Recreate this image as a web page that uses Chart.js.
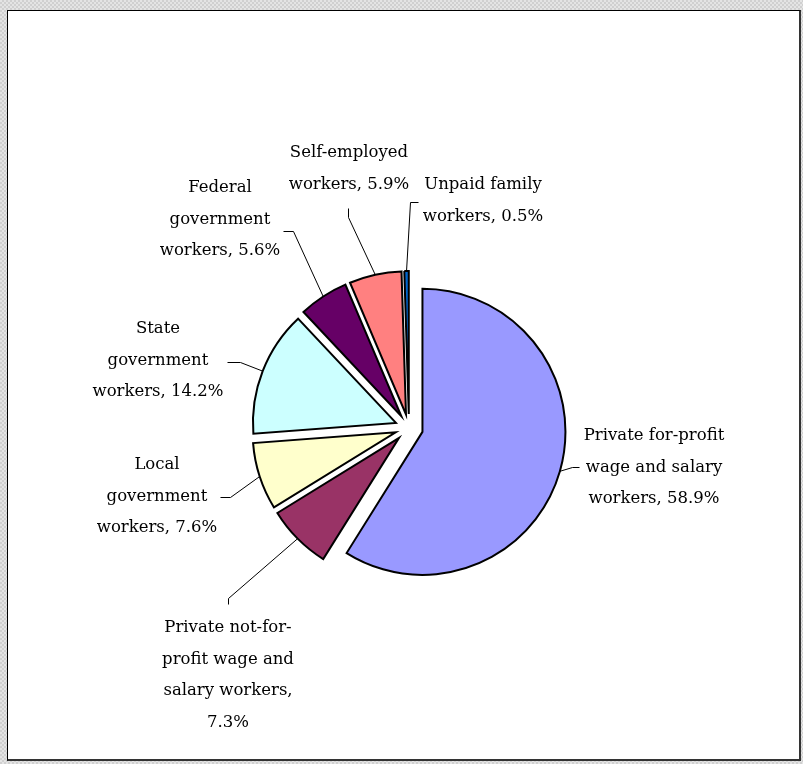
<!DOCTYPE html>
<html>
<head>
<meta charset="utf-8">
<title>Workers by class</title>
<script src="https://cdn.jsdelivr.net/npm/chart.js@4/dist/chart.umd.min.js"></script>
<style>
html, body { margin: 0; padding: 0; }
body {
    width: 803px; height: 764px; overflow: hidden; position: relative;
    background-color: #dadada;
    background-image: repeating-conic-gradient(#d0d0d0 0 25%, #e4e4e4 0 50%);
    background-size: 4px 4px;
}
#frame {
    position: absolute; left: 7px; top: 10px; width: 791px; height: 748px;
    background: #fff;
    border-left: 1px solid #000; border-top: 1px solid #000;
    border-right: 2px solid #333; border-bottom: 2px solid #333;
}
#pie { position: absolute; left: 0; top: 0; }
</style>
</head>
<body>
<div id="frame"></div>
<canvas id="pie" width="803" height="764"></canvas>
<script>
// ── data ────────────────────────────────────────────────────────────────────
const categories = [
    'Private for-profit wage and salary workers',
    'Private not-for-profit wage and salary workers',
    'Local government workers',
    'State government workers',
    'Federal government workers',
    'Self-employed workers',
    'Unpaid family workers'
];
const shares = [58.9, 7.3, 7.6, 14.2, 5.6, 5.9, 0.5];

// label text as Excel wrapped it; {v} is replaced by the share
const labelLines = [
    ['Private for-profit', 'wage and salary', 'workers, {v}'],
    ['Private not-for-', 'profit wage and', 'salary workers,', '{v}'],
    ['Local', 'government', 'workers, {v}'],
    ['State', 'government', 'workers, {v}'],
    ['Federal', 'government', 'workers, {v}'],
    ['Self-employed', 'workers, {v}'],
    ['Unpaid family', 'workers, {v}']
];

// ── styling / layout ────────────────────────────────────────────────────────
const sliceColors = ['#9999FF', '#993366', '#FFFFCC', '#CCFFFF', '#660066', '#FF8080', '#0066CC'];
const EXPLODE = 14;
const LINE_H = 31.5;

// label block centre + leader elbow/end (leader start comes from the slice)
const labelLayout = [
    { x: 654, y: 436, elbow: [572, 467], end: [579, 467] },
    { x: 228, y: 628, elbow: [228, 598], end: [228, 604] },
    { x: 157, y: 465, elbow: [230, 497], end: [220, 497] },
    { x: 158, y: 329, elbow: [240, 362], end: [227, 362] },
    { x: 220, y: 188, elbow: [293, 231], end: [283, 231] },
    { x: 349, y: 153, elbow: [348, 217], end: [348, 208] },
    { x: 483, y: 185, elbow: [410, 202], end: [418, 202] }
];

// pull every slice out along its mid angle (Excel style explosion)
const explodePlugin = {
    id: 'explode',
    beforeDatasetDraw(chart, args) {
        const ctx = chart.ctx;
        args.meta.data.forEach(arc => {
            const mid = (arc.startAngle + arc.endAngle) / 2;
            ctx.save();
            ctx.translate(Math.cos(mid) * EXPLODE, Math.sin(mid) * EXPLODE);
            arc.draw(ctx);
            ctx.restore();
        });
        return false;
    }
};

const labelPlugin = {
    id: 'sliceLabels',
    afterDraw(chart) {
        const ctx = chart.ctx;
        const meta = chart.getDatasetMeta(0);
        ctx.save();
        ctx.strokeStyle = '#000';
        ctx.lineWidth = 1;
        ctx.fillStyle = '#000';
        ctx.font = '16.5px "DejaVu Serif"';
        ctx.textAlign = 'center';
        ctx.textBaseline = 'middle';
        meta.data.forEach((arc, i) => {
            const mid = (arc.startAngle + arc.endAngle) / 2;
            const r = arc.outerRadius + EXPLODE;
            const L = labelLayout[i];
            ctx.beginPath();
            ctx.moveTo(arc.x + Math.cos(mid) * r, arc.y + Math.sin(mid) * r);
            ctx.lineTo(L.elbow[0] + 0.5, L.elbow[1] + 0.5);
            ctx.lineTo(L.end[0] + 0.5, L.end[1] + 0.5);
            ctx.stroke();
            const pct = shares[i].toFixed(1) + '%';
            labelLines[i].forEach((t, k) => {
                ctx.fillText(t.replace('{v}', pct), L.x, L.y + k * LINE_H);
            });
        });
        ctx.restore();
    }
};

new Chart(document.getElementById('pie'), {
    type: 'pie',
    data: {
        labels: categories,
        datasets: [{
            data: shares,
            backgroundColor: sliceColors,
            borderColor: '#000',
            borderWidth: 2,
            borderJoinStyle: 'miter'
        }]
    },
    options: {
        responsive: false,
        animation: false,
        events: [],
        radius: 143,
        layout: { padding: { left: 100, right: 85, top: 150, bottom: 58 } },
        plugins: { legend: { display: false }, tooltip: { enabled: false } }
    },
    plugins: [explodePlugin, labelPlugin]
});
</script>
</body>
</html>
